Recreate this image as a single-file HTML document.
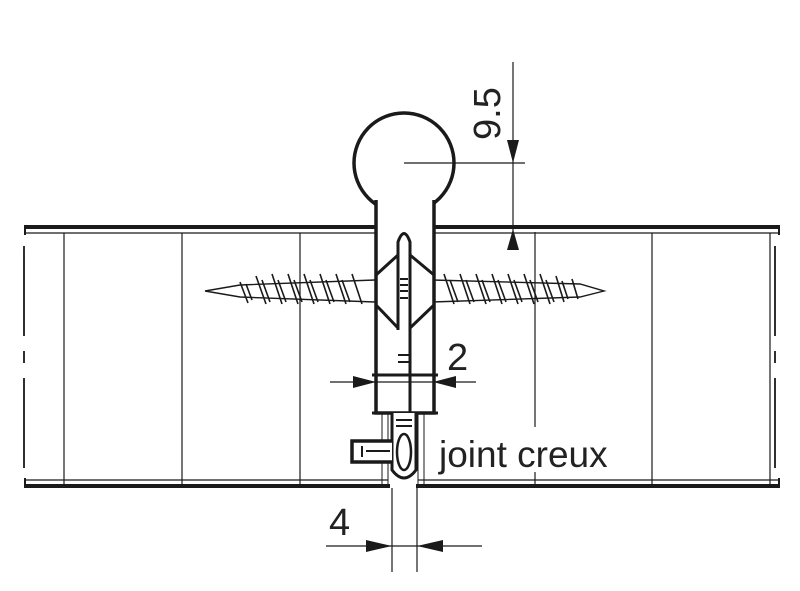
<!DOCTYPE html>
<html><head><meta charset="utf-8"><style>
html,body{margin:0;padding:0;background:#fff;}
svg{display:block}
text{font-family:"Liberation Sans",sans-serif;fill:#222}
</style></head><body>
<svg width="800" height="591" viewBox="0 0 800 591" xmlns="http://www.w3.org/2000/svg">
<g stroke="#1a1a1a" fill="none">
<line x1="24" y1="227" x2="378" y2="227" stroke-width="4"/>
<line x1="432" y1="227" x2="780" y2="227" stroke-width="4"/>
<line x1="24" y1="233" x2="388" y2="233" stroke-width="1.2"/>
<line x1="418" y1="233" x2="780" y2="233" stroke-width="1.2"/>
<line x1="24" y1="480" x2="388" y2="480" stroke-width="1.2"/>
<line x1="418" y1="480" x2="780" y2="480" stroke-width="1.2"/>
<line x1="24" y1="486" x2="390" y2="486" stroke-width="4"/>
<line x1="416" y1="486" x2="780" y2="486" stroke-width="4"/>
<line x1="25" y1="225" x2="25" y2="235" stroke-width="2"/>
<line x1="25" y1="478" x2="25" y2="488" stroke-width="2"/>
<line x1="779" y1="225" x2="779" y2="235" stroke-width="2"/>
<line x1="779" y1="478" x2="779" y2="488" stroke-width="2"/>
<line x1="24" y1="246" x2="24" y2="468" stroke-width="1.8" stroke-dasharray="90,15,12,15"/>
<line x1="775" y1="246" x2="775" y2="468" stroke-width="1.8" stroke-dasharray="90,15,12,15"/>
<line x1="64" y1="233" x2="64" y2="486" stroke-width="1.2"/>
<line x1="182" y1="233" x2="182" y2="486" stroke-width="1.2"/>
<line x1="300" y1="233" x2="300" y2="486" stroke-width="1.2"/>
<line x1="652" y1="233" x2="652" y2="486" stroke-width="1.2"/>
<line x1="770" y1="233" x2="770" y2="486" stroke-width="1.2"/>
<line x1="382" y1="233" x2="382" y2="486" stroke-width="1"/>
<line x1="388" y1="410" x2="388" y2="486" stroke-width="1"/>
<line x1="418" y1="410" x2="418" y2="486" stroke-width="1"/>
<line x1="424" y1="233" x2="424" y2="486" stroke-width="1"/>
<path d="M205 291 L240 285 L375 280 M205 291 L240 297 L375 302" stroke-width="1.4"/>
<path d="M432 280 L580 284 L604 291 L580 297 L432 302" stroke-width="1.4"/>
<g stroke-width="1.6">
<path d="M240 282 l8 21 M256 276 l10 28 M272 274 l10 30 M288 274 l10 30 M304 274 l10 30 M320 274 l10 30 M336 274 l10 30 M352 274 l10 30"/>
<path d="M246 284 l6 16 M262 280 l8 22 M278 280 l8 22 M294 280 l8 22 M310 280 l8 22 M326 280 l8 22 M342 280 l8 22"/>
<path d="M444 274 l10 30 M460 274 l10 30 M476 274 l10 30 M492 274 l10 30 M508 274 l10 30 M524 274 l10 30 M540 274 l10 30 M556 276 l8 26 M572 279 l6 20"/>
<path d="M450 280 l8 22 M466 280 l8 22 M482 280 l8 22 M498 280 l8 22 M514 280 l8 22 M530 280 l8 22 M546 280 l8 22 M562 281 l6 18"/>
</g>
<circle cx="404" cy="163" r="50" stroke-width="3.5" fill="#fff"/>
<path d="M376 200 L376 413 L434 413 L434 200" stroke-width="3.5" fill="#fff"/>
<path d="M398 330 L398 242 Q404 225 410 242 L410 413" stroke-width="3" fill="#fff"/>
<path d="M376 275 L398 255 M376 305 L398 328 M434 275 L410 255 M434 305 L410 328" stroke-width="3"/>
<path d="M400 279 h8 M400 285 h8 M400 291 h8 M400 298 h8" stroke-width="2"/>
<path d="M372 375 h66 M372 413 h66" stroke-width="3"/>
<path d="M398 355 h12 M398 362 h12" stroke-width="2"/>
<path d="M392 413 L392 470 Q404 486 416 470 L416 413" stroke-width="3" fill="#fff"/>
<path d="M396 420 h16 M396 426 h16" stroke-width="2"/>
<ellipse cx="404" cy="452" rx="7" ry="18" stroke-width="2.5"/>
<path d="M392 441 L352 441 L352 462 L392 462" stroke-width="3.5" fill="#fff"/>
<path d="M362 446 L362 457 M366 451 L390 451" stroke-width="2"/>
</g>
<g stroke="#1a1a1a" stroke-width="1.2" fill="none">
<line x1="404" y1="163" x2="525" y2="163"/>
<line x1="513" y1="62" x2="513" y2="163"/>
<line x1="513" y1="163" x2="513" y2="250"/>
<line x1="535" y1="232" x2="535" y2="427"/>
<line x1="535" y1="472" x2="535" y2="486"/>
<line x1="330" y1="382" x2="476" y2="382"/>
<line x1="392" y1="488" x2="392" y2="572"/>
<line x1="417" y1="488" x2="417" y2="572"/>
<line x1="326" y1="546" x2="482" y2="546"/>
</g>
<g fill="#1a1a1a">
<polygon points="507,140 519,140 513,163"/>
<polygon points="507,250 519,250 513,229"/>
<polygon points="353,376 353,388 376,382"/>
<polygon points="456,376 456,388 433,382"/>
<polygon points="366,540 366,552 392,546"/>
<polygon points="443,540 443,552 417,546"/>
</g>
<text x="0" y="0" font-size="38" transform="translate(500,140) rotate(-90)">9.5</text>
<text x="447" y="370" font-size="38">2</text>
<text x="329" y="535" font-size="38">4</text>
<text x="439" y="467" font-size="37">joint creux</text>
</svg>
</body></html>
